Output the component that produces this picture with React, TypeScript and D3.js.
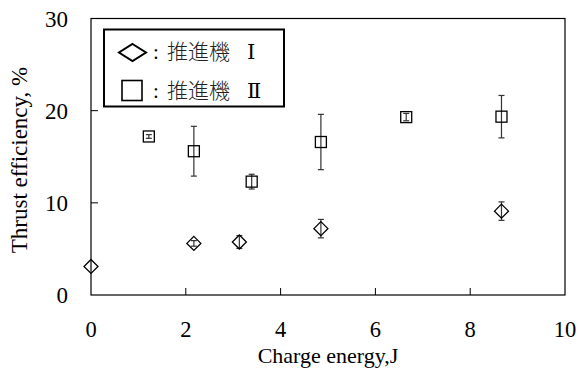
import { useEffect, useRef } from "react";
import * as d3 from "d3";

// charge energy (J), thrust efficiency (%), error (+/-)
const engine1X = [0, 2.17, 3.13, 4.85, 8.66];
const engine1Y = [3.1, 5.6, 5.75, 7.2, 9.1];
const engine1Err = [0, 0.3, 0.7, 1.0, 1.0];

const engine2X = [1.22, 2.17, 3.39, 4.85, 6.65, 8.66];
const engine2Y = [17.2, 15.6, 12.3, 16.6, 19.3, 19.35];
const engine2Err = [0.2, 2.7, 0.8, 3.0, 0.4, 2.3];

const xTicks = [0, 2, 4, 6, 8, 10];
const yTicks = [0, 10, 20, 30];
const legendNames = ["推進機", "推進機"];
const legendNums = ["Ⅰ", "Ⅱ"];

const serif = "'Liberation Serif', 'Times New Roman', serif";
const cjk = "'Noto Sans CJK JP', sans-serif";

export default function App() {
  const svgRef = useRef<SVGSVGElement>(null);

  useEffect(() => {
    const width = 579;
    const height = 372;
    const m = { left: 91, right: 14, top: 18.5, bottom: 77 };

    const svg = d3.select(svgRef.current);
    svg.selectAll("*").remove();

    const x = d3.scaleLinear().domain([0, 10]).range([m.left, width - m.right]);
    const y = d3.scaleLinear().domain([0, 30]).range([height - m.bottom, m.top]);

    // frame
    svg
      .append("rect")
      .attr("x", x(0))
      .attr("y", y(30))
      .attr("width", x(10) - x(0))
      .attr("height", y(0) - y(30))
      .attr("fill", "none")
      .attr("stroke", "#000")
      .attr("stroke-width", 1.2);

    // inward ticks
    svg
      .append("g")
      .selectAll("line")
      .data(xTicks.slice(1, -1))
      .join("line")
      .attr("x1", (d) => x(d))
      .attr("x2", (d) => x(d))
      .attr("y1", y(0))
      .attr("y2", y(0) - 7)
      .attr("stroke", "#000");
    svg
      .append("g")
      .selectAll("line")
      .data(yTicks.slice(1, -1))
      .join("line")
      .attr("x1", x(0))
      .attr("x2", x(0) + 7)
      .attr("y1", (d) => y(d))
      .attr("y2", (d) => y(d))
      .attr("stroke", "#000");

    // tick labels
    svg
      .append("g")
      .selectAll("text")
      .data(xTicks)
      .join("text")
      .attr("x", (d) => x(d))
      .attr("y", y(0) + 42)
      .attr("text-anchor", "middle")
      .attr("font-family", serif)
      .attr("font-size", 22.5)
      .text((d) => d);
    svg
      .append("g")
      .selectAll("text")
      .data(yTicks)
      .join("text")
      .attr("x", x(0) - 23)
      .attr("y", (d) => y(d) + 8)
      .attr("text-anchor", "end")
      .attr("font-family", serif)
      .attr("font-size", 23)
      .text((d) => d);

    // axis titles
    svg
      .append("text")
      .attr("x", (x(0) + x(10)) / 2)
      .attr("y", 362.5)
      .attr("text-anchor", "middle")
      .attr("font-family", serif)
      .attr("font-size", 22)
      .text("Charge energy,J");
    svg
      .append("text")
      .attr("transform", `translate(27,160) rotate(-90)`)
      .attr("text-anchor", "middle")
      .attr("font-family", serif)
      .attr("font-size", 23)
      .text("Thrust efficiency, %");

    const diamond = (cx: number, cy: number, rx: number, ry: number) =>
      `M${cx},${cy - ry}L${cx + rx},${cy}L${cx},${cy + ry}L${cx - rx},${cy}Z`;

    const drawErr = (xs: number[], ys: number[], es: number[]) => {
      const g = svg.append("g").attr("stroke", "#333").attr("stroke-width", 1.2);
      xs.forEach((xv, i) => {
        if (!es[i]) return;
        const cx = x(xv);
        const t = y(ys[i] + es[i]);
        const b = y(ys[i] - es[i]);
        g.append("line").attr("x1", cx).attr("x2", cx).attr("y1", t).attr("y2", b);
        g.append("line").attr("x1", cx - 3).attr("x2", cx + 3).attr("y1", t).attr("y2", t);
        g.append("line").attr("x1", cx - 3).attr("x2", cx + 3).attr("y1", b).attr("y2", b);
      });
    };

    drawErr(engine1X, engine1Y, engine1Err);
    drawErr(engine2X, engine2Y, engine2Err);

    svg
      .append("g")
      .selectAll("path")
      .data(engine1X)
      .join("path")
      .attr("d", (d, i) => diamond(x(d), y(engine1Y[i]), 7, 7))
      .attr("fill", "none")
      .attr("stroke", "#000")
      .attr("stroke-width", 1.3);

    svg
      .append("g")
      .selectAll("rect")
      .data(engine2X)
      .join("rect")
      .attr("x", (d) => x(d) - 5.5)
      .attr("y", (d, i) => y(engine2Y[i]) - 5.5)
      .attr("width", 11)
      .attr("height", 11)
      .attr("fill", "none")
      .attr("stroke", "#000")
      .attr("stroke-width", 1.3);

    // legend
    const lg = svg.append("g");
    lg.append("rect")
      .attr("x", 104)
      .attr("y", 29.5)
      .attr("width", 180)
      .attr("height", 77)
      .attr("fill", "#fff")
      .attr("stroke", "#000")
      .attr("stroke-width", 2);
    lg.append("path")
      .attr("d", diamond(132.5, 52.5, 13.5, 8.5))
      .attr("fill", "none")
      .attr("stroke", "#000")
      .attr("stroke-width", 2);
    lg.append("rect")
      .attr("x", 122)
      .attr("y", 80.5)
      .attr("width", 20)
      .attr("height", 20)
      .attr("fill", "none")
      .attr("stroke", "#000")
      .attr("stroke-width", 1.6);
    const lt = lg
      .selectAll("text")
      .data(legendNames)
      .join("text")
      .attr("y", (d, i) => 58.5 + i * 39)
      .attr("font-size", 21);
    lt.append("tspan").attr("x", 153).attr("font-family", serif).text(":");
    lt.append("tspan")
      .attr("x", 167)
      .attr("font-family", cjk)
      .attr("font-weight", 300)
      .attr("fill", "#222")
      .text((d) => d);
    lt.append("tspan")
      .attr("x", 247)
      .attr("font-family", "'DejaVu Serif', serif")
      .text((d, i) => legendNums[i]);
  }, []);

  return (
    <div style={{ position: "absolute", left: 0, top: 0, width: 579, height: 372 }}>
      <svg ref={svgRef} width={579} height={372} style={{ display: "block", background: "#fff" }}></svg>
    </div>
  );
}
